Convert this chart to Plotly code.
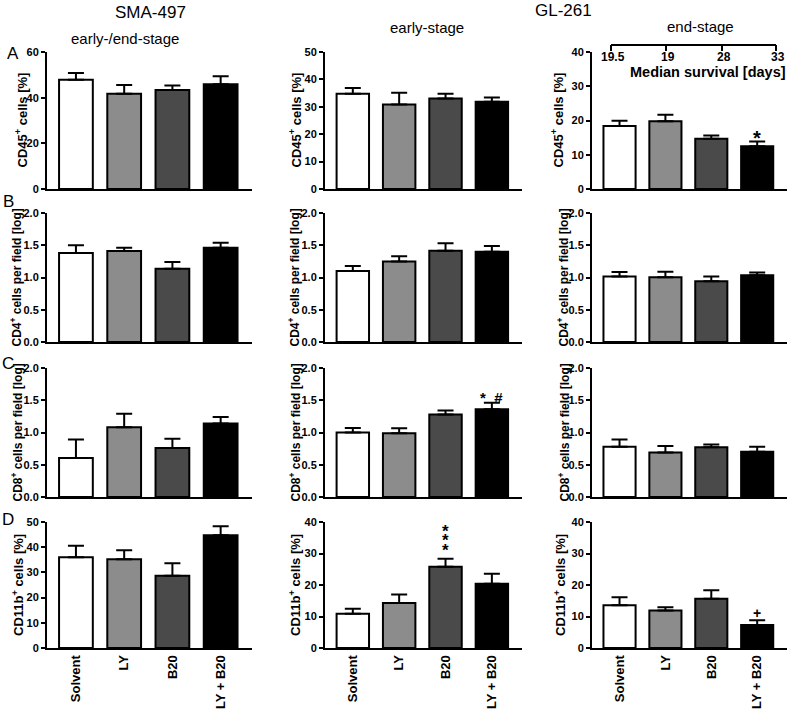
import plotly.graph_objects as go
from plotly.subplots import make_subplots

W, H = 798, 718
FONT = "Liberation Sans, Arial, sans-serif"

groups = ["Solvent", "LY", "B20", "LY + B20"]
bar_colors = ["#ffffff", "#8c8c8c", "#4a4a4a", "#000000"]

# row A: CD45+ cells [%]
cd45_sma = [47.8, 41.7, 43.4, 45.9]
cd45_sma_err = [3.0, 3.9, 1.9, 3.5]
cd45_early = [34.8, 30.8, 33.0, 31.8]
cd45_early_err = [2.1, 4.3, 1.8, 1.6]
cd45_end = [18.4, 19.8, 14.7, 12.5]
cd45_end_err = [1.5, 1.9, 0.9, 1.4]

# row B: CD4+ cells per field [log]
cd4_sma = [1.38, 1.41, 1.135, 1.46]
cd4_sma_err = [0.12, 0.05, 0.105, 0.08]
cd4_early = [1.10, 1.25, 1.415, 1.40]
cd4_early_err = [0.08, 0.08, 0.115, 0.09]
cd4_end = [1.015, 1.005, 0.94, 1.036]
cd4_end_err = [0.072, 0.085, 0.075, 0.041]

# row C: CD8+ cells per field [log]
cd8_sma = [0.605, 1.08, 0.76, 1.14]
cd8_sma_err = [0.285, 0.21, 0.145, 0.10]
cd8_early = [1.00, 0.99, 1.28, 1.36]
cd8_early_err = [0.07, 0.077, 0.06, 0.10]
cd8_end = [0.78, 0.69, 0.77, 0.70]
cd8_end_err = [0.11, 0.10, 0.045, 0.08]

# row D: CD11b+ cells [%]
cd11b_sma = [36.0, 35.2, 28.7, 44.7]
cd11b_sma_err = [4.6, 3.6, 4.9, 3.6]
cd11b_early = [10.9, 14.3, 25.8, 20.4]
cd11b_early_err = [1.6, 2.7, 2.5, 3.2]
cd11b_end = [13.6, 11.9, 15.6, 7.3]
cd11b_end_err = [2.5, 1.0, 2.7, 1.5]

median_survival = ["19.5", "19", "28", "33"]

panels = [
    [(cd45_sma, cd45_sma_err), (cd45_early, cd45_early_err), (cd45_end, cd45_end_err)],
    [(cd4_sma, cd4_sma_err), (cd4_early, cd4_early_err), (cd4_end, cd4_end_err)],
    [(cd8_sma, cd8_sma_err), (cd8_early, cd8_early_err), (cd8_end, cd8_end_err)],
    [(cd11b_sma, cd11b_sma_err), (cd11b_early, cd11b_early_err), (cd11b_end, cd11b_end_err)],
]
y_ranges = [
    [(60, 20), (50, 10), (40, 10)],
    [(2, 0.5), (2, 0.5), (2, 0.5)],
    [(2, 0.5), (2, 0.5), (2, 0.5)],
    [(50, 10), (40, 10), (40, 10)],
]
y_titles = [
    "CD45<sup>+</sup> cells [%]",
    "CD4<sup>+</sup> cells per field [log]",
    "CD8<sup>+</sup> cells per field [log]",
    "CD11b<sup>+</sup> cells [%]",
]
y_title_size = [13, 12, 12, 13]

# pixel layout of the plot areas
row_px = [(52, 189), (213, 342), (368, 497), (522, 648)]
col_px = [(47, 252), (325, 522), (592, 787)]
title_x = [[21, 295, 557], [16, 294, 563], [16, 294, 563], [18, 295, 560]]


def px(x):
    return x / W


def py(y):
    return 1 - y / H


fig = make_subplots(rows=4, cols=3)
annotations = []

for r in range(4):
    for c in range(3):
        vals, errs = panels[r][c]
        fig.add_trace(
            go.Bar(
                x=groups, y=vals,
                marker=dict(color=bar_colors, line=dict(color="black", width=2)),
                error_y=dict(type="data", array=errs, arrayminus=[0] * 4, symmetric=False,
                             color="black", thickness=2, width=8),
                showlegend=False, hoverinfo="skip",
            ),
            row=r + 1, col=c + 1,
        )
        n = r * 3 + c + 1
        ymax, dt = y_ranges[r][c]
        fig.layout[f"xaxis{n}"].update(
            domain=[px(col_px[c][0]), px(col_px[c][1])],
            anchor=f"y{n}", automargin=False,
            showline=True, linecolor="black", linewidth=2,
            ticks="", showticklabels=(r == 3), tickangle=-90,
            tickfont=dict(family=FONT, size=13, color="black", weight="bold"),
            showgrid=False, range=[-0.6, 3.65],
        )
        fig.layout[f"yaxis{n}"].update(
            domain=[py(row_px[r][1]), py(row_px[r][0])],
            anchor=f"x{n}", automargin=False,
            range=[0, ymax], dtick=dt, tick0=0,
            tickformat=".1f" if dt < 1 else "d",
            showline=True, linecolor="black", linewidth=2,
            ticks="outside", ticklen=4, tickwidth=2, tickcolor="black",
            tickfont=dict(family=FONT, size=11, color="black", weight="bold"),
            showgrid=False, zeroline=False,
        )
        annotations.append(dict(
            text=y_titles[r], textangle=-90, showarrow=False,
            xref="paper", yref="paper",
            x=px(title_x[r][c]), y=py((row_px[r][0] + row_px[r][1]) / 2),
            xanchor="center", yanchor="middle",
            font=dict(family=FONT, size=y_title_size[r], color="black", weight="bold"),
        ))

# headers
for text, x, y, size in [
    ("SMA-497", 150, 13, 17), ("GL-261", 563, 10, 17),
    ("early-/end-stage", 125, 39, 15), ("early-stage", 427, 28, 15), ("end-stage", 700, 26, 15),
    ("A", 13, 53, 17), ("B", 8, 202, 17), ("C", 8, 363, 17), ("D", 8, 519, 17),
]:
    annotations.append(dict(text=text, x=px(x), y=py(y), xref="paper", yref="paper",
                            showarrow=False, xanchor="center", yanchor="middle",
                            font=dict(family=FONT, size=size, color="black")))

# median survival bracket
tick_px = [611, 666, 722, 776]
shapes = [dict(type="line", xref="paper", yref="paper", x0=px(tick_px[0]), x1=px(tick_px[-1]),
               y0=py(45), y1=py(45), line=dict(color="black", width=2))]
for tx, lab in zip(tick_px, median_survival):
    shapes.append(dict(type="line", xref="paper", yref="paper", x0=px(tx), x1=px(tx),
                       y0=py(45), y1=py(51), line=dict(color="black", width=2)))
    annotations.append(dict(text=lab, x=px(tx + 2), y=py(57), xref="paper", yref="paper",
                            showarrow=False, xanchor="center", yanchor="middle",
                            font=dict(family=FONT, size=12, color="black", weight="bold")))
annotations.append(dict(text="Median survival [days]", x=px(708), y=py(72), xref="paper", yref="paper",
                        showarrow=False, xanchor="center", yanchor="middle",
                        font=dict(family=FONT, size=14.5, color="black", weight="bold")))

# significance marks (the triple star is stacked vertically)
for text, xa, ya, xv, yv, size in [
    ("*", "x3", "y3", "LY + B20", 15.0, 20),
    ("*  #", "x8", "y8", "LY + B20", 1.55, 15),
    ("*", "x11", "y11", "B20", 31.0, 17),
    ("*", "x11", "y11", "B20", 34.0, 17),
    ("*", "x11", "y11", "B20", 37.0, 17),
    ("+", "x12", "y12", "LY + B20", 11.0, 14),
]:
    annotations.append(dict(text=text, xref=xa, yref=ya, x=xv, y=yv,
                            showarrow=False, xanchor="center", yanchor="middle",
                            font=dict(family=FONT, size=size, color="black", weight="bold")))

fig.update_layout(
    width=W, height=H,
    margin=dict(l=0, r=0, t=0, b=0),
    plot_bgcolor="white", paper_bgcolor="white",
    bargap=0.3,
    annotations=annotations, shapes=shapes,
    font=dict(family=FONT, color="black"),
)

fig.write_html("out.html", config={"displayModeBar": False},
               post_script="document.body.style.margin = '0';")
